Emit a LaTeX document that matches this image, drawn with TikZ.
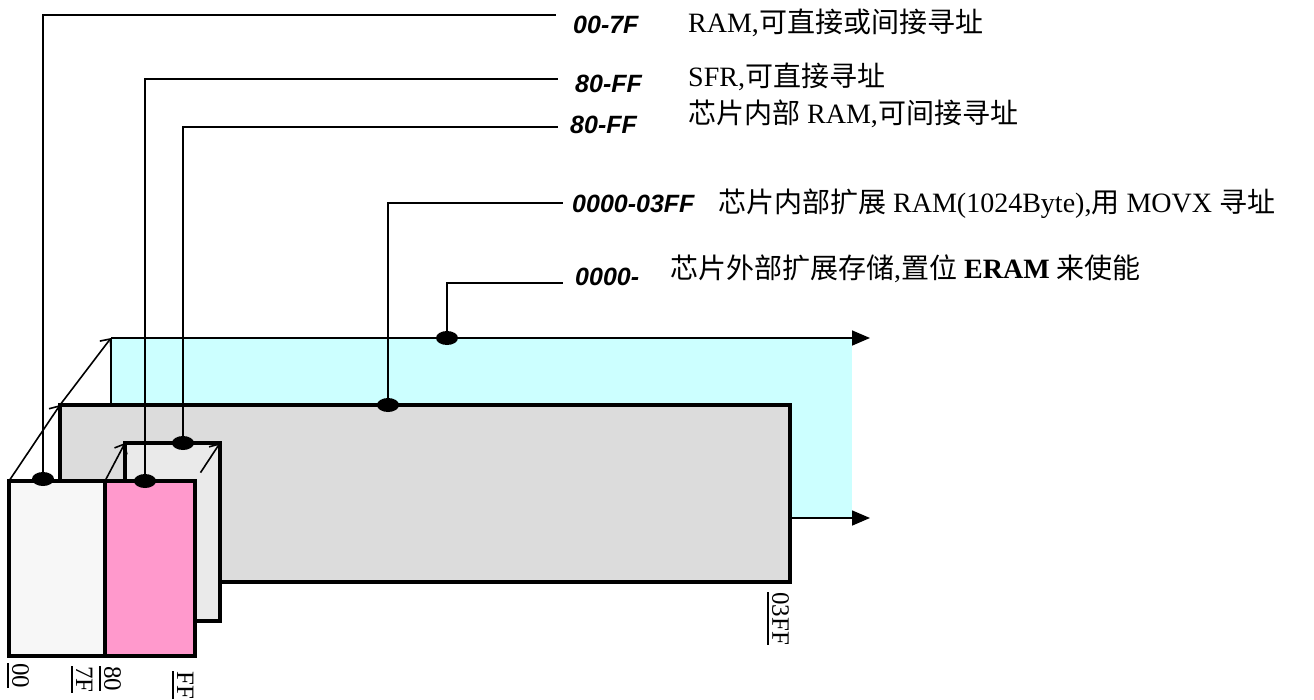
\documentclass[tikz,border=0pt]{standalone}
\usepackage{xcolor}
\definecolor{xramcyan}{RGB}{204,255,255}
\definecolor{intgray}{RGB}{220,220,220}
\definecolor{iramgray}{RGB}{234,234,234}
\definecolor{lowwhite}{RGB}{247,247,247}
\definecolor{sfrpink}{RGB}{255,153,204}
\usepackage{fontspec}
\setmainfont{Liberation Serif}
\newfontfamily\cjk{Noto Sans CJK SC}
\newfontfamily\addrfont{Liberation Sans}
\newcommand{\zh}[1]{{\cjk #1}}
\usepackage{tikz}
\usetikzlibrary{
    shapes.geometric,
    arrows.meta,
    positioning,
    calc
}

\begin{document}
\begin{tikzpicture}[
        x=1pt, y=-1pt,
        plane/.style={inner sep=0pt, outer sep=0pt, anchor=north west},
        block/.style={draw=black, line width=3.5pt, inner sep=0pt, outer sep=0pt, anchor=north west},
        joint/.style={ellipse, fill=black, minimum width=22pt, minimum height=14pt, inner sep=0pt},
        lead/.style={line width=1.6pt},
        extarrow/.style={line width=1.6pt, -{Triangle[length=18pt,width=15pt]}},
        persp/.style={line width=1.6pt, -{Straight Barb[length=8pt,width=14pt]}},
        addr/.style={anchor=base west, inner sep=0pt, font=\addrfont\fontsize{25}{30}\selectfont\bfseries\itshape},
        desc/.style={anchor=base west, inner sep=0pt, font=\fontsize{28}{32}\selectfont},
        bound/.style={rotate=-90, anchor=south west, inner xsep=0pt, inner ysep=4pt, font=\fontsize{25}{30}\selectfont},
        tick/.style={line width=1.3pt}
    ]
        \useasboundingbox (0,0) rectangle (1314,699);

        % memory planes, back to front
        \node[plane, fill=xramcyan, minimum width=741pt, minimum height=180pt] (xram) at (111,338) {};
        \node[block, fill=intgray, minimum width=730pt, minimum height=177pt] (xdata) at (60,405) {};
        \node[block, fill=iramgray, minimum width=95pt, minimum height=178pt] (iram) at (125,443) {};
        \node[block, fill=lowwhite, minimum width=96pt, minimum height=175pt] (lowram) at (9,481) {};
        \node[block, fill=sfrpink, minimum width=90pt, minimum height=175pt] (sfr) at (105,481) {};

        \coordinate (xend1) at (870,338);
        \coordinate (xend2) at (870,518);
        \draw[extarrow] (xram.north west) -- (xend1);
        \draw[lead] (xram.north west) -- (xram.west |- xdata.north);
        \draw[extarrow] (xdata.east |- xram.south) -- (xend2);

        \draw[persp] (lowram.north west) -- (xdata.north west);
        \draw[persp] (xdata.north west) -- (xram.north west);
        \draw[persp] (sfr.north west) -- (iram.north west);
        \draw[persp, shorten <=10pt] (sfr.north east) -- (iram.north east);

        \node[joint] (j1) at (43,479) {};
        \node[joint] (j2) at (145,481) {};
        \node[joint] (j3) at (183,443) {};
        \node[joint] (j4) at (388,405) {};
        \node[joint] (j5) at (447,338) {};

        \node[addr] (a1) at (573,33) {00-7F};
        \node[addr] (a2) at (575,92) {80-FF};
        \node[addr] (a3) at (570,133) {80-FF};
        \node[addr] (a4) at (572,212) {0000-03FF};
        \node[addr] (a5) at (575,285) {0000-};

        \coordinate (e1) at (556,15);
        \coordinate (e2) at (558,79);
        \coordinate (e3) at (558,127);
        \coordinate (e4) at (563,203);
        \coordinate (e5) at (563,283);
        \draw[lead] (j1.center) |- (e1);
        \draw[lead] (j2.center) |- (e2);
        \draw[lead] (j3.center) |- (e3);
        \draw[lead] (j4.center) |- (e4);
        \draw[lead] (j5.center) |- (e5);

        \node[desc] (t1) at (688,32) {RAM,\zh{可直接或间接寻址}};
        \node[desc] (t2) at (688,86) {SFR,\zh{可直接寻址}};
        \node[desc] (t3) at (688,123) {\zh{芯片内部} RAM,\zh{可间接寻址}};
        \node[desc] (t4) at (718,212) {\zh{芯片内部扩展} RAM(1024Byte),\zh{用} MOVX \zh{寻址}};
        \node[desc] (t5) at (670,278) {\zh{芯片外部扩展存储},\zh{置位} \textbf{ERAM} \zh{来使能}};

        % address bounds under the planes
        \node[bound] (b1) at (8,663) {00};
        \node[bound] (b2) at (72,666) {7F};
        \node[bound] (b3) at (100,666) {80};
        \node[bound] (b4) at (173,671) {FF};
        \node[bound] (b5) at (768,592) {03FF};
        \foreach \b in {b1,b2,b3,b4,b5}
            \draw[tick] (\b.south west) -- (\b.south east);
    \end{tikzpicture}
\end{document}
